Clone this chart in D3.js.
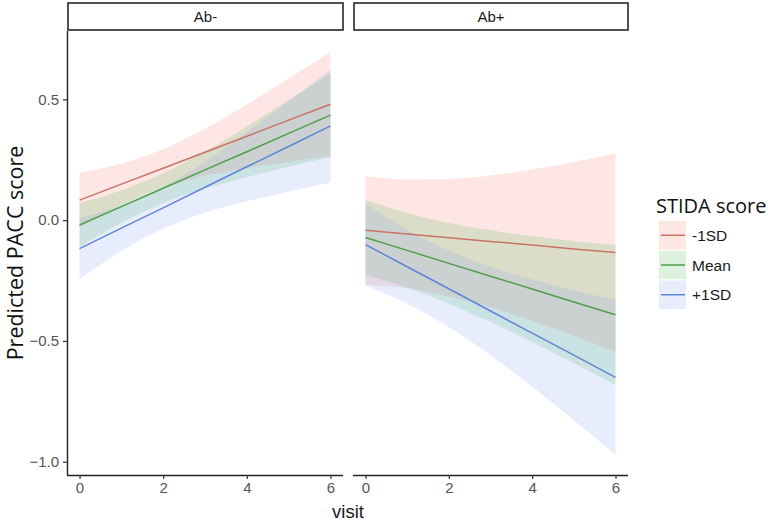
<!DOCTYPE html>
<html>
<head>
<meta charset="utf-8">
<script src="https://cdn.jsdelivr.net/npm/d3@7/dist/d3.min.js"></script>
<style>
  html, body { margin: 0; padding: 0; background: #fff; }
  svg { display: block; }
</style>
</head>
<body>
<svg id="chart" width="768" height="521"></svg>
<script>
// ---------- data ----------
const visits = [0, 1, 2, 3, 4, 5, 6];
const panels = ["Ab-", "Ab+"];
const groups = ["-1SD", "Mean", "+1SD"];
const xTicks = [0, 2, 4, 6];
const yTicks = [-1.0, -0.5, 0.0, 0.5];

// Ab- panel: fitted values and confidence bounds per group (rows: -1SD, Mean, +1SD)
const fitAbNeg = [
  [0.083, 0.149, 0.215, 0.281, 0.347, 0.414, 0.480],
  [-0.020, 0.056, 0.132, 0.208, 0.283, 0.359, 0.435],
  [-0.118, -0.033, 0.051, 0.136, 0.221, 0.305, 0.390]
];
const upperAbNeg = [
  [0.197, 0.235, 0.294, 0.379, 0.479, 0.587, 0.696],
  [0.070, 0.124, 0.194, 0.285, 0.388, 0.497, 0.610],
  [0.009, 0.062, 0.137, 0.241, 0.364, 0.492, 0.624]
];
const lowerAbNeg = [
  [-0.031, 0.063, 0.136, 0.183, 0.215, 0.241, 0.264],
  [-0.110, -0.012, 0.070, 0.131, 0.178, 0.221, 0.260],
  [-0.245, -0.128, -0.035, 0.031, 0.078, 0.118, 0.156]
];

// Ab+ panel
const fitAbPos = [
  [-0.042, -0.057, -0.073, -0.088, -0.103, -0.119, -0.134],
  [-0.072, -0.125, -0.179, -0.232, -0.285, -0.339, -0.392],
  [-0.101, -0.193, -0.284, -0.376, -0.468, -0.559, -0.651]
];
const upperAbPos = [
  [0.183, 0.168, 0.170, 0.185, 0.210, 0.241, 0.277],
  [0.083, 0.030, -0.012, -0.042, -0.066, -0.086, -0.102],
  [0.069, -0.040, -0.126, -0.193, -0.246, -0.290, -0.331]
];
const lowerAbPos = [
  [-0.267, -0.282, -0.316, -0.361, -0.416, -0.479, -0.545],
  [-0.227, -0.280, -0.346, -0.422, -0.504, -0.592, -0.682],
  [-0.271, -0.346, -0.442, -0.559, -0.690, -0.828, -0.971]
];

// ---------- styling ----------
const fillColors = ["#F8766D", "#3cb84a", "#7f9cf5"];
const lineColors = ["#c97266", "#4f9f49", "#5f84d9"];
const fillOpacity = 0.18;
const sans = "'Liberation Sans', Arial, sans-serif";

const svg = d3.select("#chart");
const panelTop = 31, panelBottom = 475;
const panelX = [[67, 343], [353, 628]];

const y = d3.scaleLinear().domain([-1.055, 0.783]).range([panelBottom, panelTop]);

const panelData = [
  { fit: fitAbNeg, lo: lowerAbNeg, hi: upperAbNeg },
  { fit: fitAbPos, lo: lowerAbPos, hi: upperAbPos }
];

panels.forEach((name, p) => {
  const [x0, x1] = panelX[p];
  const x = d3.scaleLinear().domain([-0.3, 6.3]).range([x0, x1]);
  const g = svg.append("g");

  const clipId = "clip" + p;
  svg.append("clipPath").attr("id", clipId)
    .append("rect").attr("x", x0).attr("y", panelTop).attr("width", x1 - x0).attr("height", panelBottom - panelTop);
  const plot = g.append("g").attr("clip-path", `url(#${clipId})`);

  const d = panelData[p];
  groups.forEach((grp, i) => {
    const pts = visits.map((v, k) => ({ v, lo: d.lo[i][k], hi: d.hi[i][k] }));
    const area = d3.area()
      .x(q => x(q.v)).y0(q => y(q.lo)).y1(q => y(q.hi))
      .curve(d3.curveMonotoneX);
    plot.append("path").datum(pts)
      .attr("d", area)
      .attr("fill", fillColors[i])
      .attr("fill-opacity", fillOpacity);
  });
  groups.forEach((grp, i) => {
    const pts = visits.map((v, k) => ({ v, f: d.fit[i][k] }));
    const line = d3.line().x(q => x(q.v)).y(q => y(q.f));
    plot.append("path").datum(pts)
      .attr("d", line)
      .attr("fill", "none")
      .attr("stroke", lineColors[i])
      .attr("stroke-width", 1.5);
  });

  // x axis
  const xAxis = d3.axisBottom(x).tickValues(xTicks).tickSize(4).tickPadding(3).tickFormat(d3.format("d"));
  const gx = g.append("g").attr("transform", `translate(0,${panelBottom})`).call(xAxis);
  gx.select(".domain").attr("d", `M${x0},0.5H${x1}`).attr("stroke", "#222").attr("stroke-width", 1.4);
  gx.selectAll(".tick line").attr("stroke", "#333").attr("stroke-width", 1.2);
  gx.selectAll(".tick text").attr("fill", "#555").style("font-family", sans).style("font-size", "15px");

  if (p === 0) {
    const yAxis = d3.axisLeft(y).tickValues(yTicks).tickSize(4).tickPadding(4).tickFormat(d3.format(".1f"));
    const gy = g.append("g").attr("transform", `translate(${x0},0)`).call(yAxis);
    gy.select(".domain").attr("d", `M0.5,${panelTop}V${panelBottom + 0.5}`).attr("stroke", "#222").attr("stroke-width", 1.4);
    gy.selectAll(".tick line").attr("stroke", "#333").attr("stroke-width", 1.2);
    gy.selectAll(".tick text").attr("fill", "#555").style("font-family", sans).style("font-size", "15px");
  }

  // strip
  g.append("rect").attr("x", x0 + 1).attr("y", 3).attr("width", x1 - x0 - 1).attr("height", 27)
    .attr("fill", "#fff").attr("stroke", "#1a1a1a").attr("stroke-width", 1.5);
  g.append("text").attr("x", (x0 + x1) / 2 + 0.5).attr("y", 22)
    .attr("text-anchor", "middle")
    .style("font-family", sans).style("font-size", "15px")
    .attr("fill", "#1a1a1a").text(name);
});

// axis titles
svg.append("text").attr("x", 348).attr("y", 518).attr("text-anchor", "middle")
  .style("font-family", sans).style("font-size", "18.5px")
  .attr("fill", "#1a1a1a").text("visit");
svg.append("text").attr("transform", "translate(23,253) rotate(-90)").attr("text-anchor", "middle")
  .style("font-family", "'Open Sans', sans-serif").style("font-size", "21.5px")
  .attr("fill", "#111").text("Predicted PACC score");

// legend
const lg = svg.append("g");
lg.append("text").attr("x", 656).attr("y", 213)
  .style("font-family", "'Open Sans', sans-serif").style("font-size", "20px")
  .attr("fill", "#111").text("STIDA score");
const keyY = d3.scaleBand().domain(groups).range([221, 309]).paddingInner(0.04);
groups.forEach((grp, i) => {
  const ky = keyY(grp), kh = keyY.bandwidth();
  lg.append("rect").attr("x", 659).attr("y", ky).attr("width", 27).attr("height", kh)
    .attr("fill", fillColors[i]).attr("fill-opacity", fillOpacity);
  lg.append("line").attr("x1", 661).attr("x2", 685).attr("y1", ky + kh / 2).attr("y2", ky + kh / 2)
    .attr("stroke", lineColors[i]).attr("stroke-width", 1.5);
  lg.append("text").attr("x", 692).attr("y", ky + kh / 2 + 5.5)
    .style("font-family", sans).style("font-size", "15.5px")
    .attr("fill", "#1a1a1a").text(grp);
});
</script>
</body>
</html>
